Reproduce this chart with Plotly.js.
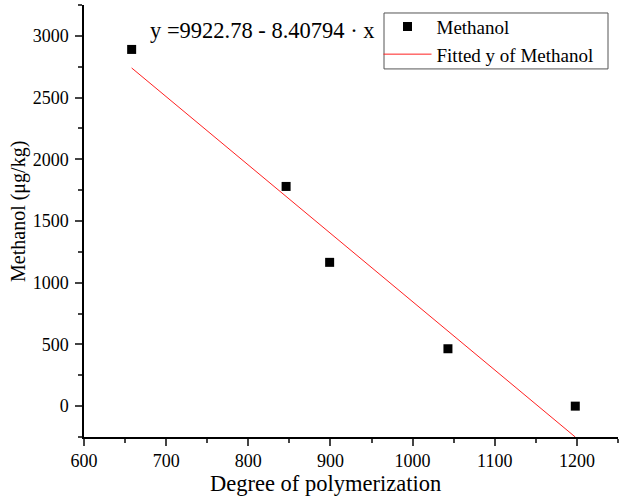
<!DOCTYPE html>
<html><head><meta charset="utf-8">
<script src="https://cdn.plot.ly/plotly-3.0.1.min.js"></script>
<style>body{margin:0;padding:0;background:#fff}</style>
</head><body>
<div id="chart" style="width:619px;height:496px"></div>
<script>
var degree = [658, 846, 899, 1043, 1198];
var methanol = [2890, 1780, 1165, 465, 0];
var fitX = [658, 1198];
var fitY = [2740, -250];
var equationText = 'y =9922.78 - 8.40794 · x';
var xTitle = 'Degree of polymerization';
var yTitle = 'Methanol (μg/kg)';

var serif = 'Liberation Serif, Times New Roman, serif';
var traces = [
  {x: degree, y: methanol, mode: 'markers', type: 'scatter', name: 'Methanol',
   marker: {symbol: 'square', size: 9, color: '#000'}},
  {x: fitX, y: fitY, mode: 'lines', type: 'scatter', name: 'Fitted y of Methanol',
   line: {color: '#ff2020', width: 1}}
];
var layout = {
  width: 619, height: 496,
  margin: {l: 84, r: 1, t: 5, b: 59},
  paper_bgcolor: '#fff', plot_bgcolor: '#fff',
  font: {family: serif, color: '#000'},
  showlegend: true,
  legend: {x: 0.5515, y: 0.994, xanchor: 'left', yanchor: 'top',
    borderwidth: 0, bgcolor: 'rgba(0,0,0,0)', itemwidth: 48,
    font: {family: serif, size: 19}, tracegroupgap: 0},
  xaxis: {range: [600, 1250], tick0: 600, dtick: 100, ticks: 'outside', ticklen: 7, tickwidth: 1.5,
    showline: true, linewidth: 1.5, linecolor: '#000', showgrid: false, zeroline: false,
    minor: {dtick: 50, ticks: 'outside', ticklen: 4, tickwidth: 1.5},
    tickfont: {family: serif, size: 18}},
  yaxis: {range: [-250, 3250], tick0: 0, dtick: 500, ticks: 'outside', ticklen: 7, tickwidth: 1.5,
    showline: true, linewidth: 1.5, linecolor: '#000', showgrid: false, zeroline: false,
    minor: {dtick: 250, ticks: 'outside', ticklen: 4, tickwidth: 1.5}, ticklabelstandoff: 3,
    tickfont: {family: serif, size: 18}},
  shapes: [{type: 'rect', xref: 'paper', yref: 'paper', x0: 0.5618, x1: 0.9813, y0: 0.852, y1: 0.9815,
    line: {color: '#555', width: 1}, fillcolor: '#fff', layer: 'above'}],
  annotations: [
    {text: equationText, xref: 'paper', yref: 'paper', x: 0.12, y: 0.942,
     xanchor: 'left', yanchor: 'middle', showarrow: false, font: {family: serif, size: 22.5}},
    {text: xTitle, xref: 'paper', yref: 'paper', x: 0.453, y: -0.1076,
     xanchor: 'center', yanchor: 'middle', showarrow: false, font: {family: serif, size: 22.5}},
    {text: yTitle, xref: 'paper', yref: 'paper', x: -0.1217, y: 0.521, textangle: -90,
     xanchor: 'center', yanchor: 'middle', showarrow: false, font: {family: serif, size: 20}}
  ]
};
Plotly.newPlot('chart', traces, layout, {displayModeBar: false});
</script>
</body></html>
